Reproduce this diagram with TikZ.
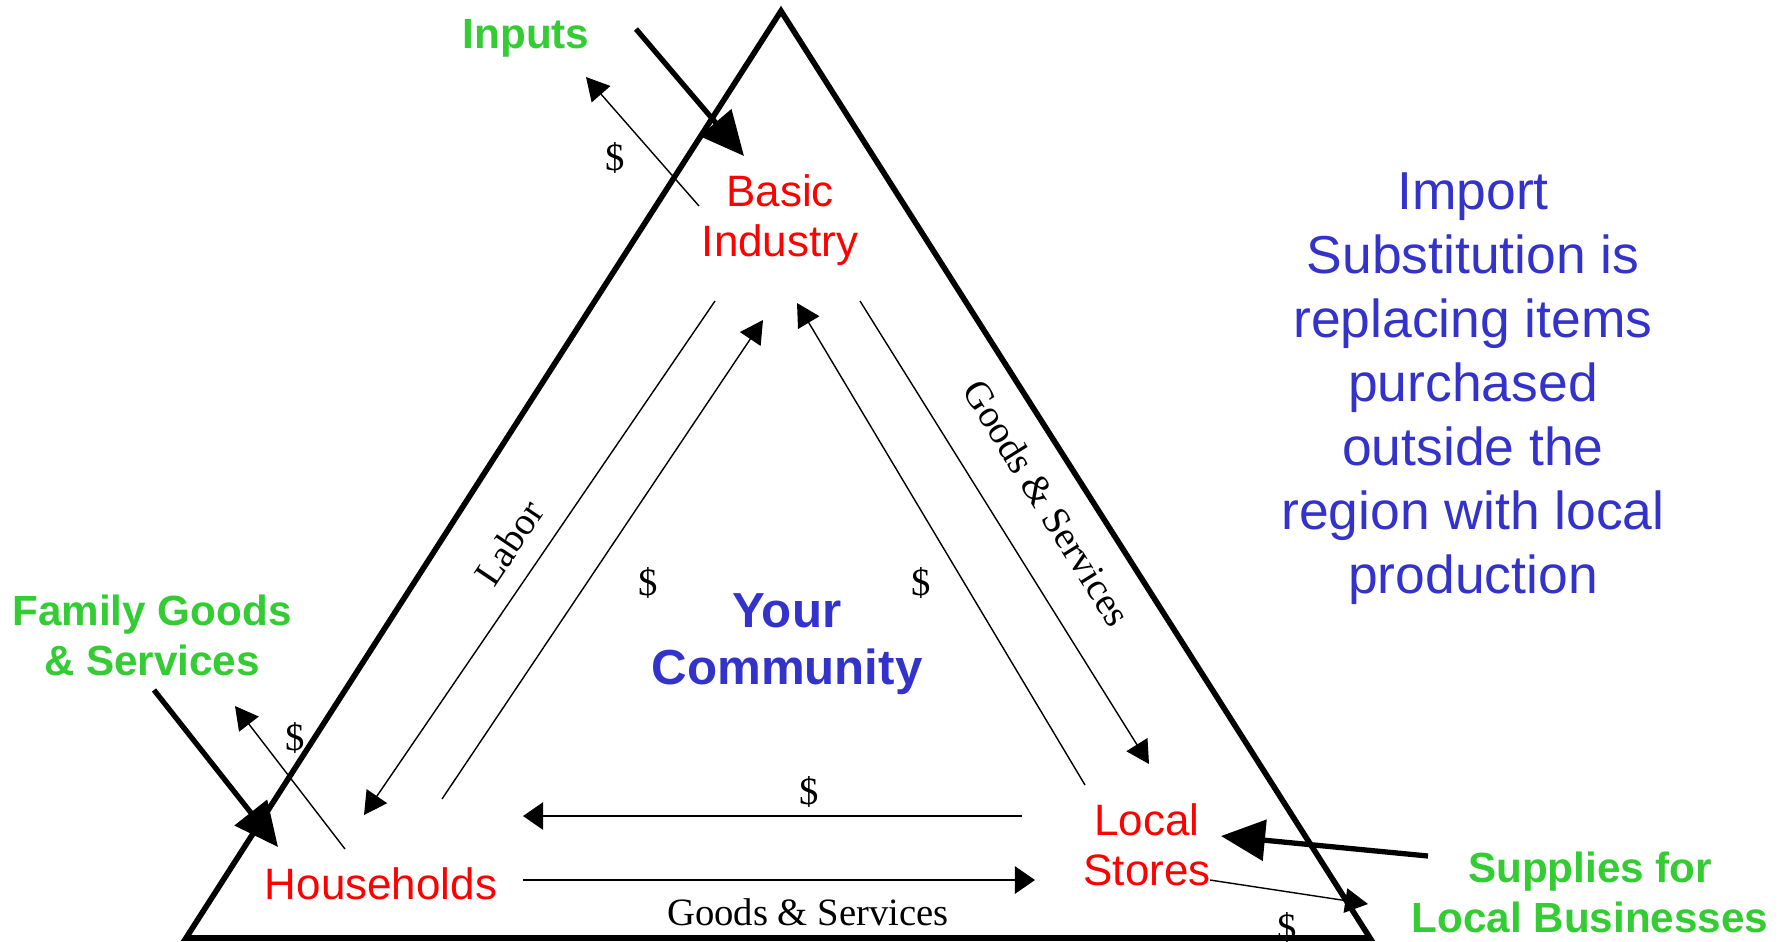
\documentclass[tikz,border=0pt]{standalone}
\usepackage{fontspec}
\setmainfont{Liberation Serif}
\setsansfont{Liberation Sans}
\usetikzlibrary{arrows.meta}

\definecolor{flowgreen}{RGB}{51,204,51}
\definecolor{textblue}{RGB}{51,51,204}

\begin{document}
\begin{tikzpicture}[x=0.01cm, y=-0.01cm,
  >={Triangle[length=6.5pt,width=7pt]},
  sector/.style={align=center, text=red, font=\sffamily\fontsize{12.5}{14.2}\selectfont},
  outside/.style={align=center, text=flowgreen, font=\sffamily\bfseries\fontsize{12}{14.2}\selectfont},
  cash/.style={font=\fontsize{11}{13}\selectfont},
  bigflow/.style={line width=1.5pt, -{Triangle[length=12.5pt,width=11.5pt]}}]
\useasboundingbox (0,0) rectangle (1785,941);
\draw[black, line width=1.6pt] (781,11) -- (1370,938) -- (186,938) -- cycle;

\node[sector] (0) at (780,220) {Basic\\Industry};
\node[sector] (1) at (381,884) {Households};
\node[sector] (2) at (1147,845) {Local\\Stores};
\node[align=center, text=textblue, font=\sffamily\bfseries\fontsize{14}{16.2}\selectfont] (3) at (787,644) {Your\\Community};
\node[align=center, text=textblue, font=\sffamily\fontsize{15.2}{18.2}\selectfont] (4) at (1473,389) {Import\\Substitution is\\replacing items\\purchased\\outside the\\region with local\\production};

\node[outside] (5) at (526,38) {Inputs};
\node[outside] (6) at (152,635) {Family Goods\\\& Services};
\node[outside] (7) at (1590,892) {Supplies for\\Local Businesses};

\node[cash] (8) at (615,158) {\$};
\node[cash] (9) at (295,738) {\$};
\node[cash] (10) at (648,583) {\$};
\node[cash] (11) at (921,583) {\$};
\node[cash] (12) at (809,792) {\$};
\node[cash] (13) at (1287,928) {\$};
\node[cash, rotate=56] (14) at (509,543) {Labor};
\node[cash, rotate=-58] (15) at (1047,503) {Goods \& Services};
\node[cash] (16) at (808,912) {Goods \& Services};

% arrow ends
\coordinate (a0) at (636,29);   \coordinate (a1) at (744,156);
\coordinate (b0) at (699,206);  \coordinate (b1) at (586,77);
\coordinate (c0) at (154,690);  \coordinate (c1) at (278,847);
\coordinate (d0) at (345,849);  \coordinate (d1) at (235,706);
\coordinate (e0) at (1428,856); \coordinate (e1) at (1221,836);
\coordinate (f0) at (1210,880); \coordinate (f1) at (1368,904);
\coordinate (g0) at (715,301);  \coordinate (g1) at (364,815);
\coordinate (h0) at (442,799);  \coordinate (h1) at (763,320);
\coordinate (i0) at (1085,785); \coordinate (i1) at (797,303);
\coordinate (j0) at (860,301);  \coordinate (j1) at (1149,764);
\coordinate (k0) at (1022,816); \coordinate (k1) at (523,816);
\coordinate (l0) at (523,880);  \coordinate (l1) at (1035,880);

\draw[bigflow] (a0) -- (a1);
\draw[bigflow] (c0) -- (c1);
\draw[bigflow] (e0) -- (e1);

\draw[->] (b0) -- (b1);
\draw[->] (d0) -- (d1);
\draw[->] (f0) -- (f1);
\draw[->] (g0) -- (g1);
\draw[->] (h0) -- (h1);
\draw[->] (i0) -- (i1);
\draw[->] (j0) -- (j1);

\draw[->, line width=0.7pt, >={Triangle[length=5.7pt,width=7.7pt]}] (k0) -- (k1);
\draw[->, line width=0.7pt, >={Triangle[length=5.7pt,width=7.7pt]}] (l0) -- (l1);
\end{tikzpicture}
\end{document}
